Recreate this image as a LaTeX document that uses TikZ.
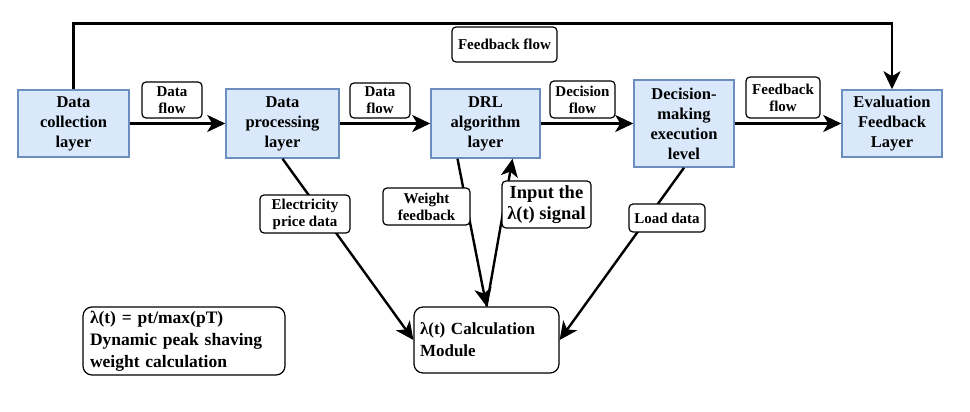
\documentclass[tikz,border=0pt]{standalone}
\usepackage{fontspec}
\setmainfont{Liberation Serif}
\usetikzlibrary{arrows.meta}
\definecolor{layerfill}{HTML}{DAE8FC}
\definecolor{layerdraw}{HTML}{6C8EBF}

\begin{document}
\begin{tikzpicture}[x=1pt, y=-1pt,
  layer/.style={draw=layerdraw, line width=1.5pt, fill=layerfill, align=center, inner sep=0pt,
    minimum width=111pt, minimum height=67pt, font=\fontsize{16.5}{20}\selectfont\bfseries},
  flowlabel/.style={draw, line width=1.2pt, rounded corners=4pt, fill=white, align=center, inner sep=0pt,
    font=\fontsize{15}{17}\selectfont\bfseries},
  module/.style={draw, line width=1.2pt, rounded corners=9pt, fill=white, align=left, inner ysep=0pt},
  flow/.style={line width=2.6pt, -{Stealth[length=18pt,width=17pt,inset=5pt]}},
  link/.style={line width=2.4pt, -{Stealth[length=18pt,width=17pt,inset=5pt]}}]
  \useasboundingbox (0,0) rectangle (970,412);

  % layers
  \node [layer] (dcol) at (73.5,123.5) {Data\\collection\\layer};
  \node [layer, minimum width=113pt, minimum height=69pt] (dproc) at (282.5,123.5) {Data\\processing\\layer};
  \node [layer, minimum width=109pt, minimum height=69pt] (drl) at (485.5,123.5) {DRL\\algorithm\\layer};
  \node [layer, minimum width=100pt, minimum height=87pt] (dexec) at (684,123.5) {Decision-\\making\\execution\\level};
  \node [layer, minimum width=100pt] (eval) at (892,123.5) {Evaluation\\Feedback\\Layer};

  % modules
  \node [module, text width=133pt, inner xsep=6pt, minimum height=66pt, font=\fontsize{17}{22}\selectfont\bfseries]
    (calc) at (486.5,340) {λ(t) Calculation\\Module};
  \node [module, text width=188pt, inner xsep=7pt, minimum height=68pt, font=\fontsize{17.5}{22}\selectfont\bfseries]
    (formula) at (184,341) {λ(t) = pt/max(pT)\\Dynamic peak shaving\\weight calculation};

  % connectors
  \draw [flow] (dcol.north) -- ++(0,-66) -| (eval.north);
  \foreach \a/\b in {dcol/dproc,dproc/drl,drl/dexec,dexec/eval}
    \draw [flow] (\a) -- (\b);
  \draw [link] (dproc.south) -- (calc.west);
  \draw [link] ([xshift=-28pt]drl.south) -- (calc.north);
  \draw [link] (calc.north) -- ([xshift=27pt]drl.south);
  \draw [link] (dexec.south) -- (calc.east);

  % labels
  \node [flowlabel, minimum width=60pt, minimum height=36pt] (df1) at (172,100) {Data\\flow};
  \node [flowlabel, minimum width=60pt, minimum height=35pt] (df2) at (380,100.5) {Data\\flow};
  \node [flowlabel, minimum width=65pt, minimum height=37pt] (decf) at (582.5,99.5) {Decision\\flow};
  \node [flowlabel, minimum width=74pt, minimum height=41pt] (fbf) at (783,97.5) {Feedback\\flow};
  \node [flowlabel, minimum width=105pt, minimum height=35pt] (fbtop) at (504.5,44.5) {Feedback flow};
  \node [flowlabel, minimum width=90pt, minimum height=38pt] (price) at (305,214) {Electricity\\price data};
  \node [flowlabel, minimum width=87pt, minimum height=37pt] (weight) at (426.5,206.5) {Weight\\feedback};
  \node [flowlabel, minimum width=89pt, minimum height=47pt, font=\fontsize{18.5}{21}\selectfont\bfseries]
    (input) at (546.5,204.5) {Input the\\λ(t) signal};
  \node [flowlabel, minimum width=76pt, minimum height=28pt] (load) at (667,218) {Load data};
\end{tikzpicture}
\end{document}
